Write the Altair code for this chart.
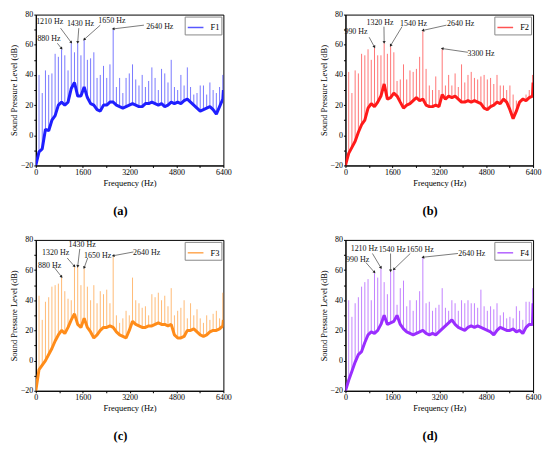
import math
import altair as alt
import pandas as pd

FONT = "Liberation Serif, Times New Roman, DejaVu Serif, serif"

# harmonic frequencies (Hz) where the tonal spikes sit
HARM_HZ = [110, 220, 330, 440, 550, 660, 770, 880, 990, 1100,
           1210, 1320, 1430, 1540, 1650, 1760, 1870, 1980, 2090, 2200,
           2310, 2420, 2530, 2640, 2750, 2860, 2970, 3080, 3190, 3300,
           3410, 3520, 3630, 3740, 3850, 3960, 4070, 4180, 4290, 4400,
           4510, 4620, 4730, 4840, 4950, 5060, 5170, 5280, 5390, 5500,
           5610, 5720, 5830, 5940, 6050, 6160, 6270, 6380]

# ---- F1 ----
A_PEAK = [40, 28, 43, 40, 41, 54, 52, 57, 53, 43,
          61, 55, 61, 53, 63, 50, 51, 55, 38, 40,
          46, 38, 47, 70, 32, 38, 28, 38, 41, 47,
          37, 33, 40, 32, 36, 45, 38, 30, 44, 41,
          35, 50, 32, 30, 40, 33, 45, 32, 27, 28,
          33, 33, 27, 35, 30, 28, 32, 40]
A_BASE = [-11, -9, 4, 3, 10, 13, 20, 22, 20, 22,
          31, 35, 26, 26, 32, 25, 21, 20, 17, 16,
          20, 20, 22, 22, 20, 19, 18, 19, 20, 21,
          20, 19, 19, 21, 21, 22, 21, 20, 21, 19,
          20, 22, 21, 22, 21, 23, 24, 22, 20, 18,
          16, 17, 18, 19, 17, 14, 19, 24]
A_ENDS = [-20, 30]
A_ANN_TEXT = ["880 Hz", "1210 Hz", "1430 Hz", "1650 Hz", "2640 Hz"]
A_ANN_TX = [450, 475, 1524, 2596, 4232]
A_ANN_TY = [64, 75, 73.5, 75.6, 72]
A_ANN_AX = [735, 846, 1467, 2200, 3690]
A_ANN_AY = [61, 71, 71, 73, 73]
A_ANN_HX = [880, 1210, 1430, 1650, 2640]
A_ANN_HY = [57.5, 61.5, 61.5, 63.5, 70.5]

# ---- F2 ----
B_PEAK = [42, 28, 43, 41, 54, 53, 57, 50, 58, 53,
          53, 61, 54, 59, 55, 36, 37, 47, 37, 43,
          42, 44, 52, 69, 44, 33, 30, 39, 30, 57,
          33, 40, 33, 41, 32, 47, 35, 40, 42, 38,
          37, 39, 40, 37, 38, 34, 40, 33, 33, 30,
          33, 27, 23, 20, 25, 27, 30, 40]
B_BASE = [-12, -8, -4, 2, 7, 10, 18, 21, 19, 22,
          26, 34, 24, 25, 28, 26, 22, 18, 20, 21,
          23, 25, 23, 24, 20, 19, 19, 20, 19, 27,
          24, 26, 25, 26, 24, 22, 22, 23, 22, 23,
          22, 21, 18, 17, 19, 20, 22, 21, 24, 22,
          17, 11, 16, 22, 24, 23, 25, 26]
B_ENDS = [-20, 35]
B_ANN_TEXT = ["990 Hz", "1320 Hz", "1540 Hz", "2640 Hz", "3300 Hz"]
B_ANN_TX = [359, 1178, 2323, 3928, 4624]
B_ANN_TY = [68.5, 74.5, 73.6, 73.6, 54]
B_ANN_AX = [808, 1313, 1930, 3446, 4175]
B_ANN_AY = [65, 72, 72, 73, 55]
B_ANN_HX = [990, 1320, 1540, 2640, 3300]
B_ANN_HY = [58.5, 61.5, 59.5, 69.5, 57.5]

# ---- F3 ----
C_PEAK = [43, 27, 39, 42, 49, 50, 51, 55, 46, 41,
          40, 62, 62, 50, 61, 49, 40, 50, 38, 46,
          44, 47, 38, 69, 30, 25, 28, 33, 30, 55,
          40, 38, 35, 36, 30, 44, 42, 45, 40, 43,
          36, 48, 30, 33, 35, 40, 28, 38, 30, 34,
          28, 25, 30, 27, 31, 33, 28, 45]
C_BASE = [-6, -3, 0, 4, 8, 13, 17, 20, 18, 22,
          27, 31, 24, 22, 28, 22, 19, 15, 17, 20,
          22, 22, 23, 22, 19, 17, 16, 15, 20, 26,
          24, 23, 22, 22, 23, 23, 24, 25, 24, 24,
          23, 24, 17, 15, 15, 16, 20, 20, 21, 19,
          17, 16, 17, 19, 20, 20, 21, 23]
C_ENDS = [-20, 27]
C_ANN_TEXT = ["880 Hz", "1320 Hz", "1430 Hz", "1650 Hz", "2640 Hz"]
C_ANN_TX = [474, 677, 1580, 2110, 3781]
C_ANN_TY = [63, 71, 76.7, 69, 71.6]
C_ANN_AX = [620, 1072, 1500, 1770, 3330]
C_ANN_AY = [62, 68, 74, 68, 72]
C_ANN_HX = [880, 1320, 1430, 1650, 2640]
C_ANN_HY = [55.5, 62.5, 62.5, 61.5, 69.5]

# ---- F4 ----
D_PEAK = [40, 29, 38, 42, 49, 52, 54, 40, 58, 55,
          61, 52, 44, 59, 60, 37, 48, 53, 36, 40,
          33, 40, 46, 68, 38, 39, 33, 35, 37, 48,
          35, 33, 40, 38, 33, 40, 38, 40, 38, 38,
          35, 47, 36, 33, 36, 34, 38, 30, 32, 28,
          29, 28, 36, 33, 27, 39, 39, 48]
D_BASE = [-13, -7, -1, 4, 6, 12, 17, 19, 18, 20,
          24, 30, 24, 25, 26, 30, 24, 21, 19, 18,
          17, 18, 19, 20, 18, 17, 18, 17, 19, 21,
          23, 25, 27, 24, 22, 21, 20, 22, 23, 22,
          23, 22, 21, 20, 19, 17, 20, 22, 21, 20,
          20, 21, 19, 20, 18, 22, 24, 24]
D_ENDS = [-20, 38]
D_ANN_TEXT = ["990 Hz", "1210 Hz", "1540 Hz", "1650 Hz", "2640 Hz"]
D_ANN_TX = [415, 640, 1594, 2548, 4310]
D_ANN_TY = [66.8, 74, 73.4, 73.4, 70.8]
D_ANN_AX = [696, 920, 1538, 2211, 3838]
D_ANN_AY = [65, 71, 71, 71, 71]
D_ANN_HX = [990, 1210, 1540, 1650, 2640]
D_ANN_HY = [58.5, 61.5, 59.5, 60.5, 68.5]

W, H = 189, 152
X_TICKS = [0, 800, 1600, 2400, 3200, 4000, 4800, 5600, 6400]
Y_TICKS = [-20, -10, 0, 10, 20, 30, 40, 50, 60, 70, 80]


def panel(name, tag, color, peak, base, ends, at, atx, aty, aax, aay, ahx, ahy):
    X = alt.X("f:Q", scale=alt.Scale(domain=[0, 6400], nice=False, zero=False),
              axis=alt.Axis(values=X_TICKS, title="Frequency (Hz)", format="d",
                            labelExpr="datum.value % 1600 == 0 ? datum.label : ''"))
    Y = alt.Y("spl:Q", scale=alt.Scale(domain=[-20, 80], nice=False, zero=False),
              axis=alt.Axis(values=Y_TICKS, title="Sound Pressure Level (dB)", format="d",
                            labelExpr="datum.value % 20 == 0 ? datum.label : ''"))
    C = alt.Color("s:N", scale=alt.Scale(domain=[name], range=[color]),
                  legend=alt.Legend(title=None, orient="top-right", symbolType="stroke"))

    line_df = pd.DataFrame({"f": [0] + HARM_HZ + [6400],
                            "spl": [ends[0]] + base + [ends[1]], "s": name})
    peak_df = pd.DataFrame({"f": HARM_HZ, "spl": base, "spl2": peak, "s": name})
    txt_df = pd.DataFrame({"f": atx, "spl": aty, "t": at})
    arr_df = pd.DataFrame({"f": aax, "spl": aay, "f2": ahx, "spl2": ahy})
    kx, ky = W / 6400.0, H / 100.0
    angs = []
    for x0, y0, x1, y1 in zip(aax, aay, ahx, ahy):
        dx = (x1 - x0) * kx
        dy = -(y1 - y0) * ky
        angs.append(math.degrees(math.atan2(dx, -dy)) % 360)
    head_df = pd.DataFrame({"f": ahx, "spl": ahy, "ang": angs})

    base_line = alt.Chart(line_df).mark_line(strokeWidth=3, clip=True,
                                             strokeJoin="bevel").encode(x=X, y=Y, color=C)
    spikes = alt.Chart(peak_df).mark_rule(strokeWidth=0.8, opacity=0.75).encode(
        x=X, y=Y, y2="spl2:Q", color=C)
    arrows = alt.Chart(arr_df).mark_rule(strokeWidth=0.6, color="#222").encode(
        x=X, y=Y, x2="f2:Q", y2="spl2:Q")
    heads = alt.Chart(head_df).mark_point(shape="triangle-up", filled=True, size=10,
                                          color="#222", opacity=1).encode(
        x=X, y=Y, angle=alt.Angle("ang:Q", scale=None))
    texts = alt.Chart(txt_df).mark_text(font=FONT, fontSize=8, color="#111").encode(
        x=X, y=Y, text="t:N")

    return alt.layer(base_line, spikes, arrows, heads, texts).properties(
        width=W, height=H,
        title=alt.TitleParams(tag, orient="bottom", fontSize=12.5, font=FONT,
                              fontWeight="bold", offset=18, anchor="middle", frame="bounds"))


pa = panel("F1", "(a)", "#1f1fff", A_PEAK, A_BASE, A_ENDS, A_ANN_TEXT, A_ANN_TX, A_ANN_TY,
           A_ANN_AX, A_ANN_AY, A_ANN_HX, A_ANN_HY)
pb = panel("F2", "(b)", "#ff1a1a", B_PEAK, B_BASE, B_ENDS, B_ANN_TEXT, B_ANN_TX, B_ANN_TY,
           B_ANN_AX, B_ANN_AY, B_ANN_HX, B_ANN_HY)
pc = panel("F3", "(c)", "#ff8c1a", C_PEAK, C_BASE, C_ENDS, C_ANN_TEXT, C_ANN_TX, C_ANN_TY,
           C_ANN_AX, C_ANN_AY, C_ANN_HX, C_ANN_HY)
pd_ = panel("F4", "(d)", "#9a2eff", D_PEAK, D_BASE, D_ENDS, D_ANN_TEXT, D_ANN_TX, D_ANN_TY,
            D_ANN_AX, D_ANN_AY, D_ANN_HX, D_ANN_HY)

row1 = alt.hconcat(pa, pb, spacing=86).resolve_scale(color="independent").resolve_legend(color="independent")
row2 = alt.hconcat(pc, pd_, spacing=86).resolve_scale(color="independent").resolve_legend(color="independent")

chart = alt.vconcat(row1, row2, spacing=17).resolve_scale(color="independent").resolve_legend(
    color="independent").properties(padding={"left": 0, "top": 0, "right": 0, "bottom": 0}).configure_view(
    stroke="black", strokeWidth=1
).configure_axis(
    grid=False, labelFont=FONT, titleFont=FONT, labelFontSize=8, titleFontSize=8.5,
    titleFontWeight="normal", labelColor="black", titleColor="black", domainColor="black",
    tickColor="black", tickSize=2, labelPadding=1, titlePadding=2, labelFlush=False,
    labelOverlap=False
).configure_legend(
    labelFont=FONT, labelFontSize=8.5, labelColor="black", strokeColor="#888", fillColor="white",
    padding=2, offset=2, symbolSize=250, symbolStrokeWidth=1.5, labelOffset=6, cornerRadius=0
)

chart.save("out.html", embed_options={"renderer": "svg", "actions": False})
